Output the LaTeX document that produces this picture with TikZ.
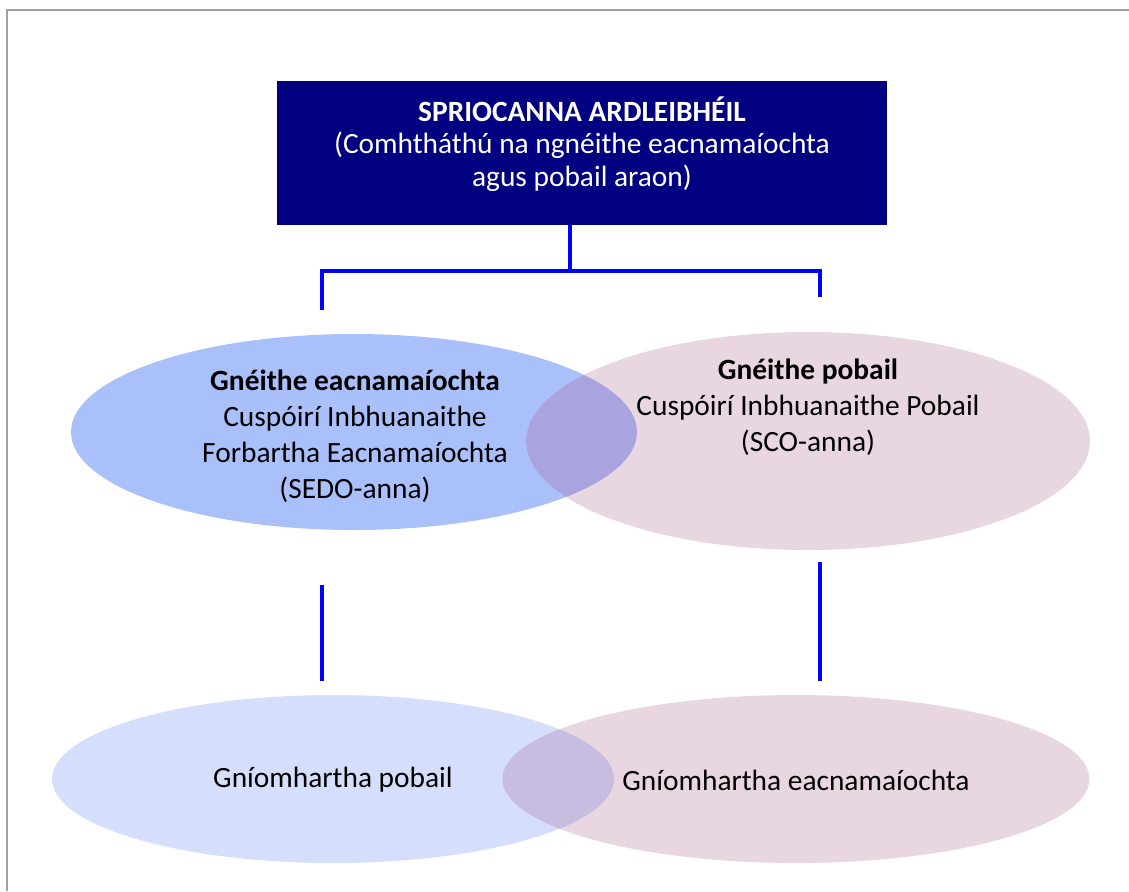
\documentclass[tikz,border=0pt]{standalone}
\usepackage{fontspec}
\setmainfont{Carlito}
\usetikzlibrary{shapes.geometric}
\definecolor{goalnavy}{RGB}{0,0,128}
\definecolor{linkblue}{RGB}{0,0,255}
\definecolor{econblue}{RGB}{169,192,251}
\definecolor{paleblue}{RGB}{213,223,252}
\definecolor{socpink}{RGB}{232,214,224}
\definecolor{topmix}{RGB}{169,164,223}
\definecolor{lowmix}{RGB}{199,189,224}
\definecolor{framegray}{RGB}{160,160,160}

\begin{document}
\begin{tikzpicture}[x=0.5pt,y=-0.5pt]
    \tikzset{link/.style={draw=linkblue,line width=2pt,line join=miter},
             blob/.style={ellipse,inner sep=0pt},
             txt/.style={align=center,font=\fontsize{14.7pt}{18pt}\selectfont}}
    \useasboundingbox (0,0) rectangle (1129,891);
    \draw[framegray,line width=1pt] (1129,9.5) -- (6.5,9.5) -- (6.5,891);

    % top goal
    \node[fill=goalnavy,minimum width=305pt,minimum height=72pt,inner sep=0pt] (goal) at (582,153) {};
    \node[txt,text=white,font=\fontsize{14.7pt}{16.2pt}\selectfont] (goaltxt) at (582,144)
        {\textbf{SPRIOCANNA ARDLEIBHÉIL}\\(Comhtháthú na ngnéithe eacnamaíochta\\agus pobail araon)};

    % aspects
    \node[blob,fill=econblue,minimum width=283pt,minimum height=98pt] (econ) at (354,432) {};
    \node[blob,fill=socpink,minimum width=282pt,minimum height=109pt] (soc) at (808,441) {};
    \begin{scope}
      \clip (354,432) ellipse [x radius=141.5pt, y radius=49pt];
      \fill[topmix] (808,441) ellipse [x radius=141pt, y radius=54.5pt];
    \end{scope}
    \node[txt] (econtxt) at (355,436)
        {\textbf{Gnéithe eacnamaíochta}\\Cuspóirí Inbhuanaithe\\Forbartha Eacnamaíochta\\(SEDO-anna)};
    \node[txt] (soctxt) at (808,407)
        {\textbf{Gnéithe pobail}\\Cuspóirí Inbhuanaithe Pobail\\(SCO-anna)};

    % actions
    \node[blob,fill=paleblue,minimum width=281pt,minimum height=84pt] (actsoc) at (333,779) {};
    \node[blob,fill=socpink,minimum width=293.5pt,minimum height=84pt] (actecon) at (796,779) {};
    \begin{scope}
      \clip (333,779) ellipse [x radius=140.5pt, y radius=42pt];
      \fill[lowmix] (796,779) ellipse [x radius=146.75pt, y radius=42pt];
    \end{scope}
    \node[txt] (actsoctxt) at (333,780) {Gníomhartha pobail};
    \node[txt] (actecontxt) at (796,780) {Gníomhartha eacnamaíochta};

    % connectors
    \coordinate (split) at (570,271);
    \coordinate (legL) at (322,310);
    \coordinate (legR) at (820,297);
    \coordinate (downLa) at (322,585);
    \coordinate (downLb) at (322,681);
    \coordinate (downRa) at (820,562);
    \coordinate (downRb) at (820,681);
    \draw[link] (split |- goal.south) -- (split);
    \draw[link] (legL) -- (legL |- split) -- (legR |- split) -- (legR);
    \draw[link] (downLa) -- (downLb);
    \draw[link] (downRa) -- (downRb);
\end{tikzpicture}
\end{document}
